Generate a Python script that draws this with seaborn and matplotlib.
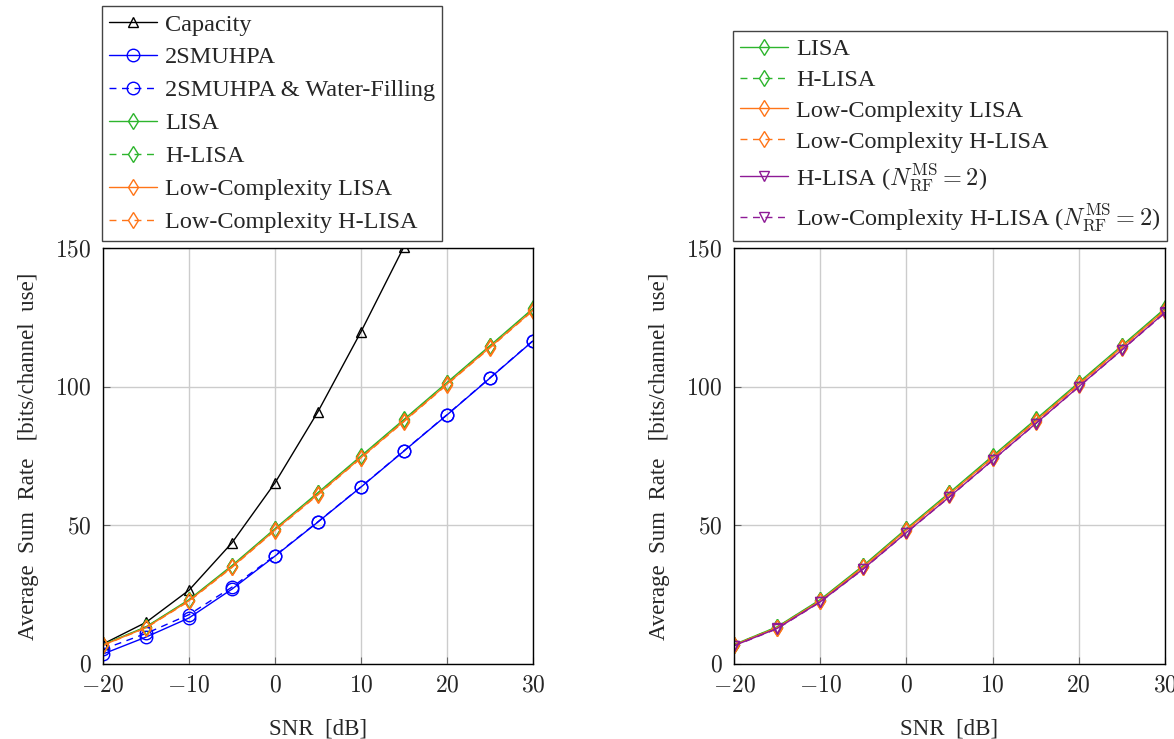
import matplotlib
matplotlib.use("Agg")
import matplotlib.pyplot as plt
import seaborn as sns
import pandas as pd

# SNR grid [dB]
snr = [-20, -15, -10, -5, 0, 5, 10, 15, 20, 25, 30]

# Average sum rate [bits/channel use]
capacity = [7.2, 15.0, 26.6, 43.7, 65.3, 91.0, 119.8, 150.5, 182.0, 213.5, 245.0]
smuhpa = [3.6, 9.7, 16.6, 27.0, 38.9, 51.2, 63.8, 76.8, 89.8, 103.1, 116.5]
smuhpa_wf = [5.3, 11.0, 17.8, 27.7, 39.1, 51.3, 63.9, 76.9, 89.9, 103.2, 116.6]
lisa = [7.0, 13.4, 23.2, 35.5, 48.8, 61.8, 75.0, 88.2, 101.5, 114.8, 128.2]
h_lisa = [6.9, 13.3, 23.0, 35.3, 48.6, 61.6, 74.8, 88.0, 101.3, 114.6, 128.0]
lc_lisa = [6.8, 13.1, 22.8, 35.0, 48.3, 61.2, 74.4, 87.6, 100.9, 114.2, 127.6]
lc_h_lisa = [6.7, 13.0, 22.6, 34.8, 48.1, 61.0, 74.2, 87.4, 100.7, 114.0, 127.4]
h_lisa_n2 = [6.6, 12.8, 22.4, 34.3, 47.4, 60.3, 73.5, 86.7, 100.0, 113.3, 126.8]
lc_h_lisa_n2 = [6.5, 12.7, 22.3, 34.2, 47.3, 60.2, 73.4, 86.6, 99.9, 113.2, 126.6]

x_ticks = [-20, -10, 0, 10, 20, 30]
y_ticks = [0, 50, 100, 150]

sns.set_style("white")
plt.rcParams["font.family"] = ["Liberation Serif", "DejaVu Serif"]
plt.rcParams["mathtext.fontset"] = "cm"

BLACK = "#000000"
BLUE = "#0000ff"
GREEN = "#2db52d"
ORANGE = "#ff7518"
PURPLE = "#8e1a96"
DASH = (0, (5, 4))

left_series = [
    ("Capacity", capacity, BLACK, "^", "-", 7),
    ("2SMUHPA", smuhpa, BLUE, "o", "-", 9),
    ("2SMUHPA & Water-Filling", smuhpa_wf, BLUE, "o", DASH, 9),
    ("LISA", lisa, GREEN, "d", "-", 8.5),
    ("H-LISA", h_lisa, GREEN, "d", DASH, 8.5),
    ("Low-Complexity LISA", lc_lisa, ORANGE, "d", "-", 8.5),
    ("Low-Complexity H-LISA", lc_h_lisa, ORANGE, "d", DASH, 8.5),
]
right_series = [
    ("LISA", lisa, GREEN, "d", "-", 8.5),
    ("H-LISA", h_lisa, GREEN, "d", DASH, 8.5),
    ("Low-Complexity LISA", lc_lisa, ORANGE, "d", "-", 8.5),
    ("Low-Complexity H-LISA", lc_h_lisa, ORANGE, "d", DASH, 8.5),
    (r"H-LISA ($N_{\mathrm{RF}}^{\mathrm{MS}}=2$)", h_lisa_n2, PURPLE, "v", "-", 7),
    (r"Low-Complexity H-LISA ($N_{\mathrm{RF}}^{\mathrm{MS}}=2$)", lc_h_lisa_n2, PURPLE, "v", DASH, 7),
]

fig = plt.figure(figsize=(11.74, 7.39), dpi=100)
ax_l = fig.add_axes([0.0877, 0.1015, 0.3663, 0.5629])
ax_r = fig.add_axes([0.6252, 0.1015, 0.3671, 0.5629])


def draw(ax, series, spacing):
    for label, vals, color, marker, ls, ms in series:
        df = pd.DataFrame({"snr": snr, "rate": vals})
        sns.lineplot(data=df, x="snr", y="rate", ax=ax, color=color, lw=1.0,
                     linestyle=ls, marker=marker, markersize=ms,
                     markerfacecolor="none", markeredgecolor=color,
                     markeredgewidth=1.0, label=label)
    ax.set_xlim(-20, 30)
    ax.set_ylim(0, 150)
    ax.set_xticks(x_ticks)
    ax.set_yticks(y_ticks)
    ax.set_xticklabels([f"${t}$" for t in x_ticks], fontsize=17)
    ax.set_yticklabels([f"${t}$" for t in y_ticks], fontsize=17)
    ax.tick_params(direction="in", length=5, width=0.8, color="#666666", pad=8,
                   top=False, right=False, bottom=True, left=True)
    ax.grid(True, color="#cccccc", lw=1.0)
    ax.set_axisbelow(True)
    for sp in ax.spines.values():
        sp.set_color("black")
        sp.set_linewidth(1.0)
    ax.set_xlabel(r"SNR  [dB]", fontsize=16.5, labelpad=16)
    ax.set_ylabel(r"Average  Sum  Rate   [bits/channel  use]", fontsize=16.5, labelpad=12)
    leg = ax.legend(loc="lower left", bbox_to_anchor=(-0.002, 1.018), fontsize=17.5,
                    frameon=True, fancybox=False, edgecolor="#444444",
                    handlelength=1.95, handletextpad=0.33, labelspacing=spacing,
                    borderpad=0.3, borderaxespad=0.0, framealpha=1)
    leg.get_frame().set_linewidth(1.0)


draw(ax_l, left_series, 0.45)
draw(ax_r, right_series, 0.36)

fig.savefig("out.png", dpi=100)
